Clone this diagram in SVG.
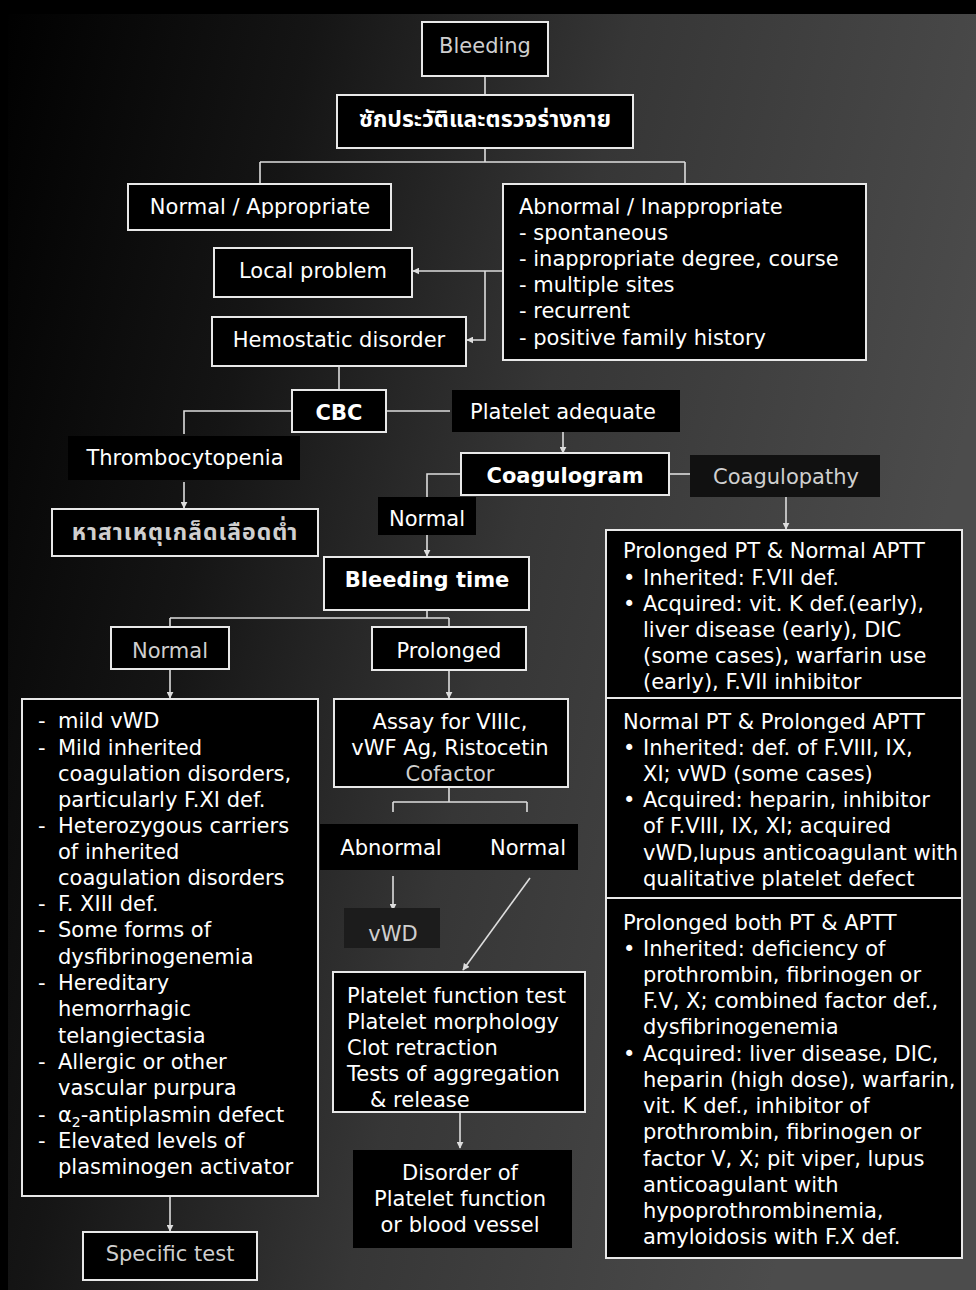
<svg xmlns="http://www.w3.org/2000/svg" width="976" height="1290" viewBox="0 0 976 1290">
<defs>
<linearGradient id="bg" x1="0" y1="0" x2="1" y2="0.3">
<stop offset="0" stop-color="#000"/>
<stop offset="0.3" stop-color="#151515"/>
<stop offset="0.6" stop-color="#363636"/>
<stop offset="1" stop-color="#4c4c4c"/>
</linearGradient>
<marker id="ah" viewBox="0 0 10 10" refX="9" refY="5" markerWidth="7" markerHeight="7" orient="auto" markerUnits="userSpaceOnUse">
<path d="M0,0 L10,5 L0,10 z" fill="#ddd"/>
</marker>
<style>
text{font-family:"DejaVu Sans","Noto Sans","Noto Sans Thai",sans-serif;font-size:21px;fill:#fff}
.c{text-anchor:middle}
.b{font-weight:bold}
.g{fill:#cfcfcf}
.th{font-size:23px;font-weight:bold}
.box{fill:#000;stroke:#e8e8e8;stroke-width:2}
.lab{fill:#000}
.ln{fill:none;stroke:#ddd;stroke-width:1.6}
.ar{fill:none;stroke:#ddd;stroke-width:1.6;marker-end:url(#ah)}
</style>
</defs>
<rect width="976" height="1290" fill="url(#bg)"/>
<rect width="976" height="14" fill="#000"/>
<rect width="8" height="1290" fill="#000"/>

<g id="labels-bg">
<rect class="lab" x="68" y="436" width="232" height="44"/>
<rect class="lab" x="452" y="390" width="228" height="42"/>
<rect x="690" y="455" width="190" height="42" fill="#111"/>
<rect class="lab" x="378" y="497" width="98" height="38"/>
<rect class="lab" x="320" y="824" width="258" height="46"/>
</g>

<g id="connectors">
<path class="ln" d="M485,76 V95"/>
<path class="ln" d="M485,148 V162 M260,162 H685 M260,162 V184 M685,162 V184"/>
<path class="ar" d="M503,271 H413"/>
<path class="ar" d="M485,271 V340 H467"/>
<path class="ln" d="M339,366 V390"/>
<path class="ln" d="M292,411 H184 V434"/>
<path class="ar" d="M184,482 V508"/>
<path class="ln" d="M386,411 H450"/>
<path class="ar" d="M563,432 V453"/>
<path class="ln" d="M669,474 H690"/>
<path class="ar" d="M786,497 V529"/>
<path class="ln" d="M461,474 H427 V497"/>
<path class="ar" d="M427,535 V556"/>
<path class="ln" d="M427,610 V618 M170,618 H449 M170,618 V627 M449,618 V627"/>
<path class="ar" d="M170,670 V698"/>
<path class="ar" d="M449,670 V698"/>
<path class="ar" d="M170,1196 V1231"/>
<path class="ln" d="M449,787 V802 M393,802 H527 M393,802 V812 M527,802 V812"/>
<path class="ar" d="M393,876 V910"/>
<path class="ar" d="M530,878 L463,970"/>
<path class="ar" d="M460,1112 V1148"/>
</g>

<g id="bleeding"><rect class="box" x="422" y="22" width="126" height="54"/><text class="c g" x="485" y="53">Bleeding</text></g>
<g id="history"><rect class="box" x="337" y="95" width="296" height="53"/><text class="c th" x="485" y="127">ซักประวัติและตรวจร่างกาย</text></g>
<g id="normal-appropriate"><rect class="box" x="128" y="184" width="263" height="46"/><text class="c" x="260" y="214">Normal / Appropriate</text></g>
<g id="abnormal-inappropriate"><rect class="box" x="503" y="184" width="363" height="176"/>
<text x="519" y="214">Abnormal / Inappropriate</text>
<text x="519" y="240">- spontaneous</text>
<text x="519" y="266">- inappropriate degree, course</text>
<text x="519" y="292">- multiple sites</text>
<text x="519" y="318">- recurrent</text>
<text x="519" y="345">- positive family history</text></g>
<g id="local-problem"><rect class="box" x="214" y="248" width="198" height="49"/><text class="c" x="313" y="278">Local problem</text></g>
<g id="hemostatic-disorder"><rect class="box" x="212" y="317" width="254" height="49"/><text class="c" x="339" y="347">Hemostatic disorder</text></g>
<g id="cbc"><rect class="box" x="292" y="390" width="94" height="42"/><text class="c b" x="339" y="420">CBC</text></g>
<g id="thrombocytopenia"><text class="c" x="185" y="465">Thrombocytopenia</text></g>
<g id="low-platelet-cause"><rect class="box" x="52" y="509" width="266" height="47"/><text class="c th g" x="185" y="540" letter-spacing="1">หาสาเหตุเกล็ดเลือดต่ำ</text></g>
<g id="platelet-adequate"><text class="c" x="563" y="419">Platelet adequate</text></g>
<g id="coagulogram"><rect class="box" x="461" y="453" width="208" height="42"/><text class="c b" x="565" y="483">Coagulogram</text></g>
<g id="coagulopathy"><text class="c g" x="786" y="484">Coagulopathy</text></g>
<g id="normal-label"><text class="c" x="427" y="526">Normal</text></g>
<g id="bleeding-time"><rect class="box" x="324" y="557" width="205" height="53"/><text class="c b" x="427" y="587">Bleeding time</text></g>
<g id="bt-normal"><rect class="box" x="111" y="627" width="118" height="42"/><text class="c g" x="170" y="658">Normal</text></g>
<g id="bt-prolonged"><rect class="box" x="372" y="627" width="154" height="43"/><text class="c" x="449" y="658">Prolonged</text></g>
<g id="normal-list"><rect class="box" x="22" y="699" width="296" height="497"/>
<text x="38" y="728">-</text><text x="58" y="728">mild vWD</text>
<text x="38" y="755">-</text><text x="58" y="755">Mild inherited</text>
<text x="58" y="781">coagulation disorders,</text>
<text x="58" y="807">particularly F.XI def.</text>
<text x="38" y="833">-</text><text x="58" y="833">Heterozygous carriers</text>
<text x="58" y="859">of inherited</text>
<text x="58" y="885">coagulation disorders</text>
<text x="38" y="911">-</text><text x="58" y="911">F. XIII def.</text>
<text x="38" y="937">-</text><text x="58" y="937">Some forms of</text>
<text x="58" y="964">dysfibrinogenemia</text>
<text x="38" y="990">-</text><text x="58" y="990">Hereditary</text>
<text x="58" y="1016">hemorrhagic</text>
<text x="58" y="1043">telangiectasia</text>
<text x="38" y="1069">-</text><text x="58" y="1069">Allergic or other</text>
<text x="58" y="1095">vascular purpura</text>
<text x="38" y="1122">-</text><text x="58" y="1122">α<tspan font-size="14" dy="5">2</tspan><tspan dy="-5">-antiplasmin defect</tspan></text>
<text x="38" y="1148">-</text><text x="58" y="1148">Elevated levels of</text>
<text x="58" y="1174">plasminogen activator</text></g>
<g id="specific-test"><rect class="box" x="83" y="1232" width="174" height="48"/><text class="c g" x="170" y="1261">Specific test</text></g>
<g id="assay"><rect class="box" x="334" y="699" width="234" height="88"/>
<text class="c" x="450" y="729">Assay for VIIIc,</text>
<text class="c" x="450" y="755">vWF Ag, Ristocetin</text>
<text class="c g" x="450" y="781">Cofactor</text></g>
<g id="assay-abnormal"><text class="c" x="391" y="855">Abnormal</text></g>
<g id="assay-normal"><text class="c" x="528" y="855">Normal</text></g>
<g id="vwd"><rect x="344" y="908" width="96" height="40" fill="#1c1c1c"/><text class="c g" x="393" y="941">vWD</text></g>
<g id="platelet-function"><rect class="box" x="333" y="972" width="252" height="140"/>
<text x="347" y="1003">Platelet function test</text>
<text x="347" y="1029">Platelet morphology</text>
<text x="347" y="1055">Clot retraction</text>
<text x="347" y="1081">Tests of aggregation</text>
<text x="370" y="1107">&amp; release</text></g>
<g id="disorder"><rect x="353" y="1150" width="219" height="98" fill="#000"/>
<text class="c" x="460" y="1180">Disorder of</text>
<text class="c" x="460" y="1206">Platelet function</text>
<text class="c" x="460" y="1232">or blood vessel</text></g>
<g id="pt-prolonged"><rect class="box" x="606" y="530" width="356" height="168"/>
<text x="623" y="558">Prolonged PT &amp; Normal APTT</text>
<text x="623" y="585">•</text><text x="643" y="585">Inherited: F.VII def.</text>
<text x="623" y="611">•</text><text x="643" y="611">Acquired: vit. K def.(early),</text>
<text x="643" y="637">liver disease (early), DIC</text>
<text x="643" y="663">(some cases), warfarin use</text>
<text x="643" y="689">(early), F.VII inhibitor</text></g>
<g id="aptt-prolonged"><rect class="box" x="606" y="698" width="356" height="200"/>
<text x="623" y="729">Normal PT &amp; Prolonged APTT</text>
<text x="623" y="755">•</text><text x="643" y="755">Inherited: def. of F.VIII, IX,</text>
<text x="643" y="781">XI; vWD (some cases)</text>
<text x="623" y="807">•</text><text x="643" y="807">Acquired: heparin, inhibitor</text>
<text x="643" y="833">of F.VIII, IX, XI; acquired</text>
<text x="643" y="860">vWD,lupus anticoagulant with</text>
<text x="643" y="886">qualitative platelet defect</text></g>
<g id="both-prolonged"><rect class="box" x="606" y="898" width="356" height="360"/>
<text x="623" y="930">Prolonged both PT &amp; APTT</text>
<text x="623" y="956">•</text><text x="643" y="956">Inherited: deficiency of</text>
<text x="643" y="982">prothrombin, fibrinogen or</text>
<text x="643" y="1008">F.V, X; combined factor def.,</text>
<text x="643" y="1034">dysfibrinogenemia</text>
<text x="623" y="1061">•</text><text x="643" y="1061">Acquired: liver disease, DIC,</text>
<text x="643" y="1087">heparin (high dose), warfarin,</text>
<text x="643" y="1113">vit. K def., inhibitor of</text>
<text x="643" y="1139">prothrombin, fibrinogen or</text>
<text x="643" y="1166">factor V, X; pit viper, lupus</text>
<text x="643" y="1192">anticoagulant with</text>
<text x="643" y="1218">hypoprothrombinemia,</text>
<text x="643" y="1244">amyloidosis with F.X def.</text></g>
</svg>
